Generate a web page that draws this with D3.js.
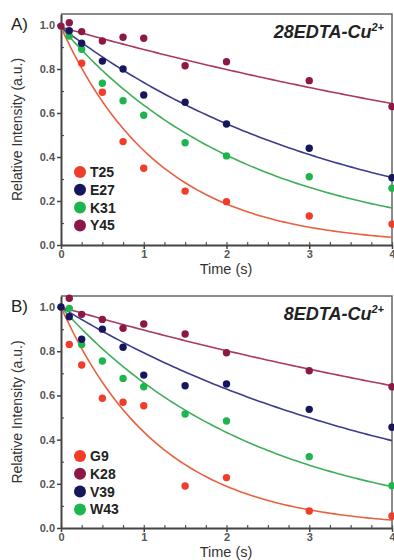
<!DOCTYPE html>
<html>
<head>
<meta charset="utf-8">
<script src="https://cdn.jsdelivr.net/npm/d3@7"></script>
<style>
  body { margin: 0; background: #fff; }
  svg { display: block; font-family: "Liberation Sans", Arial, sans-serif; }
</style>
</head>
<body>
<svg id="chart" width="394" height="560"></svg>
<script>
// data
let times = [0, 0.1, 0.25, 0.5, 0.75, 1, 1.5, 2, 3, 4];

// panel A (28EDTA-Cu2+)
let namesA = ['T25', 'E27', 'K31', 'Y45'];
let T25 = [null, null, 0.826, 0.694, 0.47, 0.349, 0.245, 0.197, 0.132, 0.095];
let E27 = [null, 0.974, 0.917, 0.836, 0.80, 0.682, 0.649, 0.55, 0.44, 0.306];
let K31 = [null, 0.95, 0.89, 0.735, 0.656, 0.59, 0.465, 0.405, 0.31, 0.258];
let Y45 = [0.995, 1.01, 0.97, 0.927, 0.944, 0.94, 0.815, 0.833, 0.747, 0.629];
// fitted decay rates (1/s) and amplitudes for the curves
let rateA = [0.835, 0.293, 0.443, 0.108];
let ampA = [0.99, 0.99, 0.99, 0.99];

// panel B (8EDTA-Cu2+)
let namesB = ['G9', 'K28', 'V39', 'W43'];
let G9 = [null, 0.831, 0.738, 0.587, 0.569, 0.553, 0.19, 0.228, 0.077, 0.054];
let K28 = [null, 1.04, 0.967, 0.944, 0.904, 0.923, 0.878, 0.793, 0.712, 0.639];
let V39 = [1.0, 0.956, 0.854, 0.90, 0.818, 0.692, 0.644, 0.652, 0.537, 0.456];
let W43 = [null, 0.994, 0.831, 0.756, 0.677, 0.639, 0.516, 0.484, 0.323, 0.191];
let rateB = [0.833, 0.110, 0.232, 0.419];
let ampB = [1.0, 1.0, 1.0, 1.0];

let xTicks = [0, 1, 2, 3, 4];
let yTicks = [0, 0.2, 0.4, 0.6, 0.8, 1.0];

// colours per residue
let dotColor = {T25: '#f03c28', G9: '#f03c28', E27: '#16165c', V39: '#16165c',
                K31: '#1fb54e', W43: '#1fb54e', Y45: '#8c1848', K28: '#8c1848'};
let lineColor = {T25: '#e8603e', G9: '#e8603e', E27: '#3c3c8c', V39: '#3c3c8c',
                 K31: '#3fae58', W43: '#3fae58', Y45: '#a83a5c', K28: '#a83a5c'};

let svg = d3.select('#chart');

drawPanel({
  label: 'A)', title: '28EDTA-Cu', top: 14, bottom: 245,
  names: namesA, series: [T25, E27, K31, Y45], rate: rateA, amp: ampA,
  order: [0, 2, 1, 3], legendY: 172
});
drawPanel({
  label: 'B)', title: '8EDTA-Cu', top: 296, bottom: 528,
  names: namesB, series: [G9, K28, V39, W43], rate: rateB, amp: ampB,
  order: [0, 3, 2, 1], legendY: 456
});

function drawPanel(p) {
  let x = d3.scaleLinear().domain([0, 4]).range([61, 392]);
  let y = d3.scaleLinear().domain([0, 1.05]).range([p.bottom, p.top]);
  let g = svg.append('g');

  // frame top / right
  g.append('path')
    .attr('d', `M${x(0)},${y(1.05)}H${x(4)}V${y(0)}`)
    .attr('fill', 'none').attr('stroke', '#666').attr('stroke-width', 1.5);

  // minor ticks, pointing inward
  g.append('g').attr('transform', `translate(0,${y(0)})`)
    .call(d3.axisBottom(x).tickValues(d3.range(0, 4.01, 0.25)).tickSize(-3).tickFormat(''))
    .call(a => a.select('.domain').remove())
    .selectAll('line').attr('stroke', '#555').attr('stroke-width', 1.2);
  g.append('g').attr('transform', `translate(${x(0)},0)`)
    .call(d3.axisLeft(y).tickValues(d3.range(0.1, 1.01, 0.2)).tickSize(-3).tickFormat(''))
    .call(a => a.select('.domain').remove())
    .selectAll('line').attr('stroke', '#555').attr('stroke-width', 1.2);

  // main axes
  let xa = g.append('g').attr('transform', `translate(0,${y(0)})`)
    .call(d3.axisBottom(x).tickValues(xTicks).tickSize(4).tickSizeOuter(0).tickPadding(1)
      .tickFormat(d3.format('d')));
  let ya = g.append('g').attr('transform', `translate(${x(0)},0)`)
    .call(d3.axisLeft(y).tickValues(yTicks).tickSize(4).tickSizeOuter(0).tickPadding(2)
      .tickFormat(d3.format('.1f')));
  [xa, ya].forEach(a => {
    a.select('.domain').attr('stroke', '#444').attr('stroke-width', 2);
    a.selectAll('line').attr('stroke', '#444').attr('stroke-width', 1.5);
    a.selectAll('text').attr('font-size', 11).attr('font-weight', 'bold')
      .attr('fill', '#555').attr('font-family', '"Liberation Sans", Arial, sans-serif');
  });

  // fitted curves
  let line = d3.line().x(d => x(d[0])).y(d => y(d[1]));
  p.order.forEach(i => {
    let pts = d3.range(0, 4.001, 0.05).map(t => [t, p.amp[i] * Math.exp(-p.rate[i] * t)]);
    g.append('path').datum(pts)
      .attr('d', line).attr('fill', 'none')
      .attr('stroke', lineColor[p.names[i]]).attr('stroke-width', 1.6);
  });

  // data points
  p.order.forEach(i => {
    let pts = times.map((t, j) => [t, p.series[i][j]]).filter(d => d[1] != null);
    g.selectAll(null).data(pts).enter().append('circle')
      .attr('cx', d => x(d[0])).attr('cy', d => y(d[1])).attr('r', 3.7)
      .attr('fill', dotColor[p.names[i]]);
  });

  // legend
  p.names.forEach((n, i) => {
    let ly = p.legendY + i * 17.8;
    g.append('circle').attr('cx', 80).attr('cy', ly).attr('r', 6).attr('fill', dotColor[n]);
    g.append('text').attr('x', 90).attr('y', ly + 5)
      .attr('font-size', 14).attr('font-weight', 'bold').attr('fill', '#222').text(n);
  });

  // panel letter
  g.append('text').attr('x', 11).attr('y', p.top + 16)
    .attr('font-size', 17).attr('fill', '#222').text(p.label);

  // title with superscript
  let t = g.append('text').attr('x', 384).attr('y', p.top + 24)
    .attr('text-anchor', 'end').attr('font-size', 18).attr('font-weight', 'bold')
    .attr('font-style', 'italic').attr('fill', '#222');
  t.append('tspan').text(p.title);
  t.append('tspan').attr('font-size', 11).attr('dy', -7).text('2+');

  // axis titles
  g.append('text')
    .attr('transform', `translate(22,${(y(0) + y(1.05)) / 2}) rotate(-90)`)
    .attr('text-anchor', 'middle').attr('font-size', 14).attr('fill', '#333')
    .text('Relative Intensity (a.u.)');
  g.append('text').attr('x', 226).attr('y', y(0) + 29)
    .attr('text-anchor', 'middle').attr('font-size', 14.5).attr('fill', '#333')
    .text('Time (s)');
}
</script>
</body>
</html>
